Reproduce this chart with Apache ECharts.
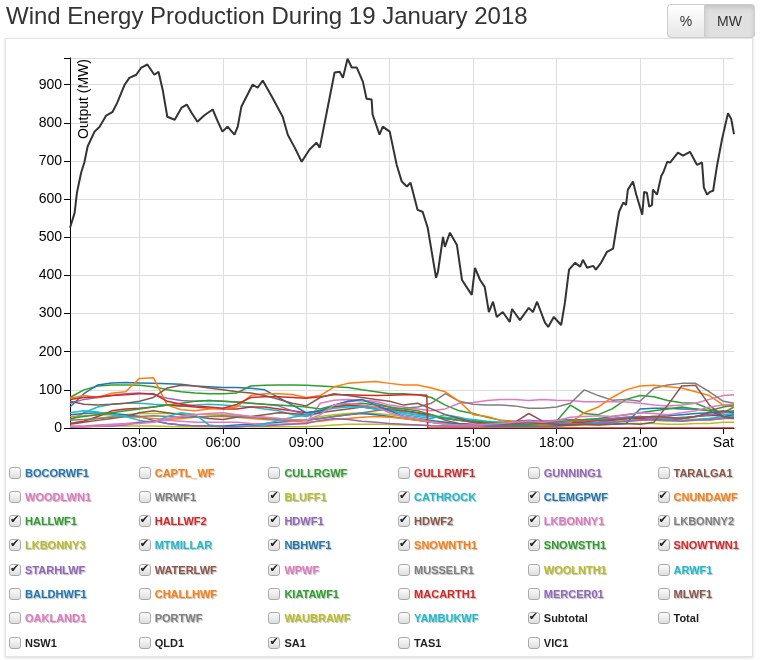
<!DOCTYPE html>
<html>
<head>
<meta charset="utf-8">
<script src="https://cdn.jsdelivr.net/npm/echarts@6/dist/echarts.min.js"></script>
<style>
html,body{margin:0;padding:0;background:#fff;width:761px;height:660px;overflow:hidden;font-family:"Liberation Sans",Arial,sans-serif;}
#panel{position:absolute;left:5px;top:38px;width:746px;height:617px;border:1px solid #e2e2e2;box-shadow:0 1px 3px rgba(0,0,0,0.15);background:#fff;}
#chart{position:absolute;left:0;top:0;width:761px;height:660px;}
#btns{position:absolute;left:667px;top:4px;height:34px;display:flex;z-index:5;}
.btn{box-sizing:border-box;height:34px;border:1px solid #ccc;font-size:14px;color:#333;display:flex;align-items:center;justify-content:center;}
.btn.l{width:38px;border-radius:4px 0 0 4px;background:linear-gradient(#fff,#e6e6e6);}
.btn.r{width:50px;border-radius:0 4px 4px 0;border-left:none;background:#e0e0e0;box-shadow:inset 0 3px 5px rgba(0,0,0,0.125);}
#legend{position:absolute;left:0;top:0;width:761px;height:660px;z-index:5;}
.item{position:absolute;height:14px;display:flex;align-items:center;white-space:nowrap;}
.box{position:relative;width:12px;height:12px;box-sizing:border-box;border:1px solid #a9a9a9;border-radius:3px;background:linear-gradient(#fcfcfc,#dedede);}
.chk{position:absolute;left:0px;top:-2px;font-family:"DejaVu Sans",sans-serif;font-size:11px;line-height:12px;color:#222;}
.lab{margin-left:4px;font-weight:bold;font-size:11px;text-shadow:1px 1px 1px rgba(0,0,0,0.28);}
</style>
</head>
<body>
<div id="panel"></div>
<div id="chart"></div>
<div id="btns"><div class="btn l">%</div><div class="btn r">MW</div></div>
<div id="legend"></div>
<script>
// ---------- data ----------
const titleText = "Wind Energy Production During 19 January 2018";
const yAxisTitle = "Output (MW)";
const xTickTimes = ["03:00","06:00","09:00","12:00","15:00","18:00","21:00","24:00"];
const xTickLabels = ["03:00","06:00","09:00","12:00","15:00","18:00","21:00","Sat"];
const yTicks = [0,100,200,300,400,500,600,700,800,900];

const halfHourTimes = ["00:30","01:00","01:30","02:00","02:30","03:00","03:30","04:00","04:30","05:00","05:30","06:00","06:30","07:00","07:30","08:00","08:30","09:00","09:30","10:00","10:30","11:00","11:30","12:00","12:30","13:00","13:30","14:00","14:30","15:00","15:30","16:00","16:30","17:00","17:30","18:00","18:30","19:00","19:30","20:00","20:30","21:00","21:30","22:00","22:30","23:00","23:30","24:00","24:23"];

const BLUFF1   = [12,18,25,30,35,38,38,38,38,36,35,35,34,30,28,25,22,20,30,35,38,40,38,35,30,25,15,10,8,6,5,5,5,6,8,10,12,15,15,18,20,22,20,18,20,22,25,28,30];
const CATHROCK = [20,40,55,62,65,65,62,60,58,60,62,60,58,55,50,45,35,30,40,55,58,55,52,48,35,30,25,35,28,20,15,12,10,10,12,15,15,20,22,25,28,30,28,25,28,30,32,35,38];
const CLEMGPWF = [35,38,40,38,35,30,20,12,8,5,5,5,8,10,12,15,18,20,25,30,35,38,35,30,25,20,15,12,10,8,6,5,5,8,10,12,15,18,20,22,25,28,30,32,35,38,40,42,45];
const CNUNDAWF = [30,32,35,35,30,28,25,22,25,28,30,30,28,25,22,20,18,15,18,22,25,28,30,28,25,20,15,12,10,8,8,6,5,6,8,10,15,18,20,22,25,28,30,28,25,22,20,25,28];
const HALLWF1  = [80,100,110,113,113,112,108,100,95,92,90,90,92,110,112,113,113,112,110,108,106,100,95,90,90,87,80,60,45,38,28,20,17,15,15,18,60,38,35,50,75,85,82,72,66,65,50,40,55];
const HALLWF2  = [12,18,30,45,50,52,55,60,58,55,52,50,50,55,55,50,45,40,45,55,60,58,55,50,45,40,30,25,20,15,12,10,10,10,8,10,15,15,20,22,25,25,22,20,25,30,35,30,28];
const HDWF1    = [65,75,80,85,90,92,88,78,72,70,72,70,68,65,62,58,45,35,40,60,70,72,65,55,40,35,30,25,20,15,12,15,18,20,18,20,22,20,22,25,28,30,25,22,25,30,35,40,42];
const HDWF2    = [10,15,20,25,30,40,45,40,35,30,25,22,28,30,35,40,38,35,40,45,50,55,50,48,45,40,35,20,12,10,10,12,15,38,18,15,12,12,15,20,25,28,30,28,25,30,40,45,40];
const LKBONNY1 = [5,5,8,10,12,15,18,20,18,15,15,15,15,12,10,10,12,12,65,73,75,73,70,60,55,50,45,50,65,67,72,75,75,72,75,73,72,69,69,69,68,65,60,58,60,65,75,85,87];
const LKBONNY2 = [20,22,25,28,30,30,32,30,28,28,30,32,30,28,25,22,20,20,25,30,35,40,45,50,52,55,65,90,70,62,60,60,58,52,52,55,65,100,85,73,75,70,104,113,117,117,95,70,65];
const LKBONNY3 = [3,3,4,5,5,5,5,4,3,3,3,3,3,3,3,3,3,3,5,8,10,10,10,9,8,8,6,5,5,5,5,5,5,5,5,5,6,8,8,10,12,12,12,10,10,12,12,15,15];
const MTMILLAR = [40,45,42,35,30,20,15,30,40,35,8,3,3,5,10,20,28,35,45,52,55,55,50,45,40,35,30,28,25,22,18,15,12,10,10,8,10,12,15,15,18,20,22,20,18,22,25,30,30];
const NBHWF1   = [55,90,113,118,119,118,117,116,115,110,108,106,106,104,100,80,60,40,45,60,70,75,60,45,30,25,20,15,10,8,5,5,5,5,5,5,8,10,12,10,12,50,52,52,50,50,45,30,35];
const SNOWNTH1 = [78,85,80,91,95,130,132,60,48,45,50,52,55,85,90,90,88,80,85,108,117,120,122,117,113,113,105,95,70,35,30,20,15,10,8,10,15,40,55,80,100,110,112,108,105,95,85,60,55];
const SNOWSTH1 = [25,30,35,40,45,50,55,60,65,70,72,70,68,65,62,60,58,55,50,60,62,65,60,55,50,45,35,25,20,18,15,12,10,10,12,15,20,22,25,30,35,40,45,50,55,50,45,55,60];
const STARHLWF = [2,3,5,5,8,15,18,12,8,5,5,3,3,5,5,8,10,12,20,25,22,18,15,12,10,8,6,5,5,5,8,10,12,15,18,15,12,10,12,15,18,20,22,20,18,20,22,25,25];
const WATERLWF = [70,62,60,62,65,70,80,105,112,110,105,100,95,92,85,75,65,58,80,90,85,80,75,70,60,65,50,35,25,15,12,10,12,15,12,10,8,10,8,10,12,10,15,60,110,112,60,30,25];
const WPWF     = [3,3,5,8,10,12,15,25,30,35,38,40,35,30,28,25,22,20,35,60,65,60,55,40,30,25,15,10,8,8,10,12,15,18,15,20,28,30,32,30,35,40,38,35,40,45,55,60,62];

// SNOWTWN1 trips at about 13:20, so it has its own sample times
const SNOWTWN1_times = ["00:30","01:00","01:30","02:00","02:30","03:00","03:30","04:00","04:30","05:00","05:30","06:00","06:30","07:00","07:30","08:00","08:30","09:00","09:30","10:00","10:30","11:00","11:30","12:00","12:30","13:00","13:20","13:22","14:00","16:00","18:00","20:00","22:00","24:23"];
const SNOWTWN1 = [75,80,82,85,87,90,90,70,62,58,55,52,62,80,82,82,80,78,82,87,87,86,85,86,87,87,86,0,0,0,0,0,0,0];

const subtotalTimes = ["00:30","00:40","00:45","00:54","01:01","01:08","01:23","01:34","01:48","02:02","02:12","02:28","02:38","02:53","03:04","03:17","03:32","03:41","03:50","04:00","04:16","04:31","04:42","04:52","05:05","05:20","05:38","05:49","05:59","06:10","06:25","06:32","06:40","07:04","07:15","07:26","07:47","08:09","08:20","08:35","08:50","09:07","09:22","09:29","09:44","10:01","10:12","10:19","10:29","10:38","10:49","11:02","11:10","11:21","11:23","11:38","11:45","12:00","12:15","12:26","12:37","12:45","13:00","13:11","13:22","13:31","13:40","13:44","13:55","13:59","14:10","14:25","14:36","14:57","15:04","15:15","15:25","15:34","15:43","15:51","16:04","16:19","16:24","16:41","17:00","17:09","17:18","17:35","17:42","17:54","18:10","18:18","18:27","18:40","18:51","18:57","19:06","19:19","19:25","19:36","19:49","20:02","20:11","20:15","20:24","20:30","20:34","20:45","20:52","21:05","21:09","21:15","21:20","21:26","21:28","21:37","21:46","21:50","21:59","22:05","22:22","22:33","22:48","23:03","23:14","23:18","23:25","23:31","23:38","23:46","23:57","24:10","24:17","24:23"];
const subtotalMW = [525,564,617,669,696,738,777,790,819,829,853,900,918,926,945,953,926,934,887,816,808,840,848,827,803,820,835,803,777,790,769,790,843,900,892,911,866,816,769,735,698,730,748,735,827,932,934,918,968,945,945,908,863,861,822,769,790,777,690,646,633,643,572,567,525,459,394,409,501,475,512,480,388,349,420,388,370,304,331,291,304,278,312,283,315,304,331,276,265,291,270,328,415,433,423,441,420,425,415,433,462,470,538,567,591,585,625,646,612,559,619,617,580,585,625,612,661,669,698,696,722,714,724,690,696,630,612,619,622,685,756,825,810,770];

const legendNames = ["BOCORWF1","CAPTL_WF","CULLRGWF","GULLRWF1","GUNNING1","TARALGA1","WOODLWN1","WRWF1","BLUFF1","CATHROCK","CLEMGPWF","CNUNDAWF","HALLWF1","HALLWF2","HDWF1","HDWF2","LKBONNY1","LKBONNY2","LKBONNY3","MTMILLAR","NBHWF1","SNOWNTH1","SNOWSTH1","SNOWTWN1","STARHLWF","WATERLWF","WPWF","MUSSELR1","WOOLNTH1","ARWF1","BALDHWF1","CHALLHWF","KIATAWF1","MACARTH1","MERCER01","MLWF1","OAKLAND1","PORTWF","WAUBRAWF","YAMBUKWF","Subtotal","Total","NSW1","QLD1","SA1","TAS1","VIC1"];
const checkedNames = ["BLUFF1","CATHROCK","CLEMGPWF","CNUNDAWF","HALLWF1","HALLWF2","HDWF1","HDWF2","LKBONNY1","LKBONNY2","LKBONNY3","MTMILLAR","NBHWF1","SNOWNTH1","SNOWSTH1","SNOWTWN1","STARHLWF","WATERLWF","WPWF","Subtotal","SA1"];
const palette = ["#1f77b4","#ff7f0e","#2ca02c","#d62728","#9467bd","#8c564b","#e377c2","#7f7f7f","#bcbd22","#17becf"];

const farmSeries = {BLUFF1,CATHROCK,CLEMGPWF,CNUNDAWF,HALLWF1,HALLWF2,HDWF1,HDWF2,LKBONNY1,LKBONNY2,LKBONNY3,MTMILLAR,NBHWF1,SNOWNTH1,SNOWSTH1,SNOWTWN1,STARHLWF,WATERLWF,WPWF};
const farmTimes = {SNOWTWN1:SNOWTWN1_times};

// ---------- helpers ----------
function toMin(s){const p=s.split(":");return (+p[0])*60+(+p[1]);}
function colorOf(name){const i=legendNames.indexOf(name);return i<40?palette[i%10]:"#222";}

// ---------- legend (HTML checkboxes) ----------
const lg=document.getElementById("legend");
legendNames.forEach((n,i)=>{
  const col=i%6,row=Math.floor(i/6);
  const d=document.createElement("div");
  d.className="item";
  d.style.left=(9+col*129.7)+"px";
  d.style.top=(465.5+row*24.3)+"px";
  const b=document.createElement("span");b.className="box";
  if(checkedNames.includes(n)){const c=document.createElement("span");c.className="chk";c.textContent="✔";b.appendChild(c);}
  const l=document.createElement("span");l.className="lab";l.textContent=n;l.style.color=colorOf(n);
  if(i>=40){l.style.textShadow="none";}
  d.appendChild(b);d.appendChild(l);lg.appendChild(d);
});

// ---------- chart ----------
const series=[];
Object.keys(farmSeries).forEach(name=>{
  const times=farmTimes[name]||halfHourTimes;
  series.push({
    name:name,type:"line",showSymbol:false,silent:true,
    lineStyle:{width:1.5,color:colorOf(name)},itemStyle:{color:colorOf(name)},
    data:times.map((t,i)=>[toMin(t),farmSeries[name][i]])
  });
});
series.push({
  name:"Subtotal",type:"line",showSymbol:false,silent:true,
  lineStyle:{width:2,color:"#333"},itemStyle:{color:"#333"},
  data:subtotalTimes.map((t,i)=>[toMin(t),subtotalMW[i]])
});

const tickMins=xTickTimes.map(toMin);
const chart=echarts.init(document.getElementById("chart"),null,{renderer:"canvas"});
chart.setOption({
  animation:false,
  textStyle:{fontFamily:"Liberation Sans, Arial, sans-serif"},
  title:{text:titleText,left:6,top:5,padding:0,textStyle:{fontSize:24,fontWeight:"normal",color:"#333",fontFamily:"Liberation Sans, Arial, sans-serif"}},
  grid:{left:70,right:27,top:58,bottom:232,containLabel:false},
  xAxis:{
    type:"value",min:toMin("00:30"),max:toMin("24:23"),
    axisLine:{show:true,onZero:false,lineStyle:{color:"#000",width:1}},
    axisTick:{show:true,length:6,lineStyle:{color:"#000"},customValues:tickMins},
    axisLabel:{fontSize:14,color:"#000",margin:8,customValues:tickMins,
      formatter:v=>{const i=tickMins.indexOf(v);return i>=0?xTickLabels[i]:"";}},
    splitLine:{show:true,lineStyle:{color:"#ddd",width:1}}
  },
  yAxis:{
    type:"value",min:0,max:970,interval:100,
    axisLine:{show:true,lineStyle:{color:"#000",width:1}},
    axisTick:{show:true,length:6,lineStyle:{color:"#000"}},
    axisLabel:{fontSize:14,color:"#000",margin:8,customValues:yTicks},
    splitLine:{show:true,lineStyle:{color:"#ddd",width:1}}
  },
  graphic:[{type:"text",x:84,y:59,rotation:Math.PI/2,silent:true,
    style:{text:yAxisTitle,fontSize:14,fill:"#000",align:"right",verticalAlign:"middle",fontFamily:"Liberation Sans, Arial, sans-serif"}}],
  series:series
});
</script>
</body>
</html>
